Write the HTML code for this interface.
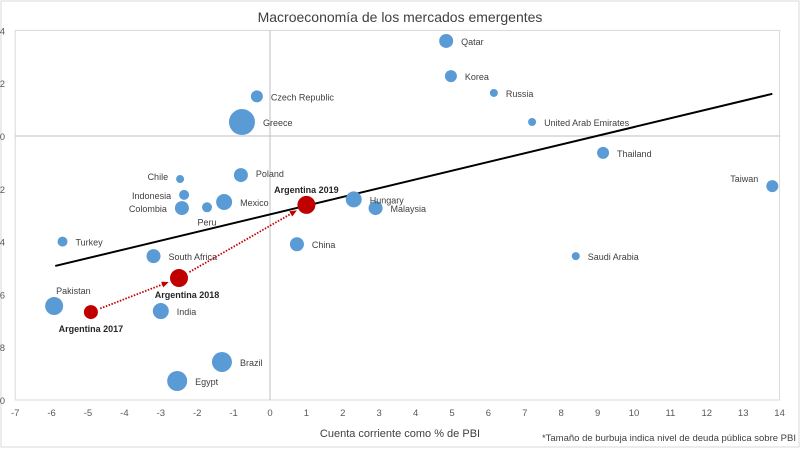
<!DOCTYPE html>
<html><head><meta charset="utf-8"><style>
body{margin:0;background:#fff;}
svg{display:block;font-family:"Liberation Sans",sans-serif;}
</style></head><body>
<svg id="c" width="800" height="450">
<rect x="1" y="1" width="798" height="446" fill="#fff" stroke="#d9d9d9"/>
<text x="400" y="22" text-anchor="middle" font-size="14" fill="#404040">Macroeconomía de los mercados emergentes</text>
<text x="400" y="437" text-anchor="middle" font-size="11" fill="#404040">Cuenta corriente como % de PBI</text>
<text x="796" y="441" text-anchor="end" font-size="9.5" fill="#404040">*Tamaño de burbuja indica nivel de deuda pública sobre PBI</text>
<g id="g"></g>
</svg>
<script>
const countries=["Qatar","Korea","Russia","United Arab Emirates","Thailand","Taiwan","Saudi Arabia","Malaysia","Hungary","China","Czech Republic","Greece","Poland","Mexico","Peru","Chile","Indonesia","Colombia","Turkey","South Africa","India","Pakistan","Brazil","Egypt"];
const cuenta=[4.84,4.97,6.15,7.2,9.15,13.8,8.4,2.9,2.3,0.74,-0.36,-0.77,-0.8,-1.26,-1.73,-2.47,-2.36,-2.42,-5.7,-3.2,-3.0,-5.93,-1.32,-2.55];
const fiscal=[3.6,2.27,1.63,0.53,-0.64,-1.9,-4.55,-2.73,-2.4,-4.1,1.5,0.53,-1.48,-2.5,-2.7,-1.63,-2.23,-2.73,-4.0,-4.55,-6.63,-6.44,-8.56,-9.28];
const deuda=[7,6,4,4,6,6,4,7,8,7,6,13,7,8,5,4,5,7,5,7,8,9,10,10];
const argLabels=["Argentina 2017","Argentina 2018","Argentina 2019"];
const argX=[-4.92,-2.5,1.0];
const argY=[-6.67,-5.38,-2.61];
const argSize=[7,9,9];
const xTicks=[-7,-6,-5,-4,-3,-2,-1,0,1,2,3,4,5,6,7,8,9,10,11,12,13,14];
const yTicks=[4,2,0,-2,-4,-6,-8,-10];
const trend=[-5.9,13.8];
const trendSlope=0.331, trendIntercept=-2.97;
const X=v=>270+v*36.4, Y=v=>136-v*26.4;
const g=document.getElementById('g');
const NS="http://www.w3.org/2000/svg";
function mk(t,a,p){const e=document.createElementNS(NS,t);for(const k in a)e.setAttribute(k,a[k]);(p||g).appendChild(e);return e;}
let e;
e=mk('rect',{x:X(-7),y:Y(4),width:X(14)-X(-7),height:Y(-10)-Y(4),fill:'none',stroke:'#d9d9d9'});


e=mk('line',{x1:X(0),x2:X(0),y1:Y(4),y2:Y(-10),stroke:'#bfbfbf'});


e=mk('line',{x1:X(-7),x2:X(14),y1:Y(0),y2:Y(0),stroke:'#bfbfbf'});


xTicks.forEach(t=>{e=mk('text',{x:X(t),y:416,'text-anchor':'middle','font-size':9.5,fill:'#595959'});e.textContent=t;

});
yTicks.forEach(t=>{e=mk('text',{x:5,y:Y(t)+4,'text-anchor':'end','font-size':9.5,fill:'#595959'});e.textContent=t;

});
e=mk('line',{x1:X(trend[0]),y1:Y(trendIntercept+trendSlope*trend[0]),x2:X(trend[1]),y2:Y(trendIntercept+trendSlope*trend[1]),stroke:'#000','stroke-width':2});


const special={"Chile":[-1,-3,'end'],"Indonesia":[-1,0,'end'],"Colombia":[-1,0,'end'],"Peru":[0,14,'middle'],"Pakistan":[1,-16,'start'],"Taiwan":[-1,-8,'end'],"Poland":[1,-2,'start']};
countries.forEach((c,i)=>{
 const cx=X(cuenta[i]),cy=Y(fiscal[i]),r=deuda[i];
 e=mk('circle',{cx:cx,cy:cy,r:r,fill:'#5b9bd5'});
 
 
 const s=special[c]||[1,0,'start'];
 let lx=s[2]==='middle'?cx+s[0]:cx+s[0]*(r+8), ly=cy+4+s[1];
 if(c==='Pakistan')lx=cx+2;
 e=mk('text',{x:lx,y:ly,'text-anchor':s[2],'font-size':9,fill:'#404040'});e.textContent=c;
 
 
});
for(let i=0;i<argX.length-1;i++){
 const x1=X(argX[i]),y1=Y(argY[i]),x2=X(argX[i+1]),y2=Y(argY[i+1]);
 const dx=x2-x1,dy=y2-y1,L=Math.hypot(dx,dy),ux=dx/L,uy=dy/L;
 const sx=x1+ux*(argSize[i]+3),sy=y1+uy*(argSize[i]+3),ex=x2-ux*(argSize[i+1]+4),ey=y2-uy*(argSize[i+1]+4);
 e=mk('line',{x1:sx,y1:sy,x2:ex,y2:ey,stroke:'#c00000','stroke-width':1.8,'stroke-dasharray':'1.5 1.5'});
 
 
 e=mk('polygon',{points:`${ex+ux*2},${ey+uy*2} ${ex-ux*5-uy*3},${ey-uy*5+ux*3} ${ex-ux*5+uy*3},${ey-uy*5-ux*3}`,fill:'#c00000'});
 
 
}
const argOff=[[0,20],[8,20],[0,-12]];
argX.forEach((v,i)=>{
 const cx=X(v),cy=Y(argY[i]);
 e=mk('circle',{cx:cx,cy:cy,r:argSize[i],fill:'#c00000'});
 
 
 e=mk('text',{x:cx+argOff[i][0],y:cy+argOff[i][1],'text-anchor':'middle','font-size':9,'font-weight':'bold',fill:'#262626'});e.textContent=argLabels[i];
 
 
});
</script>
</body></html>
